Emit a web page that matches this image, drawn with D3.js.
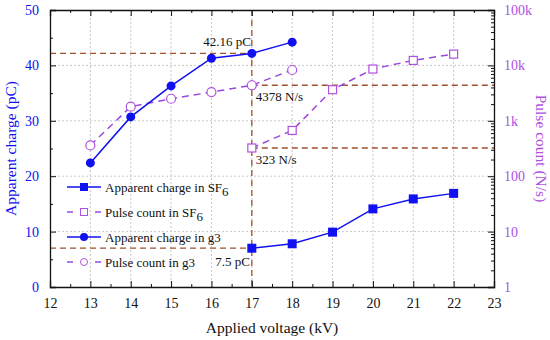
<!DOCTYPE html>
<html>
<head>
<meta charset="utf-8">
<script src="https://cdn.jsdelivr.net/npm/d3@7"></script>
<style>
  body { margin: 0; background: #fff; }
</style>
</head>
<body>
<div id="chart"></div>
<script>
// data
var voltSF6 = [17, 18, 19, 20, 21, 22];
var chargeSF6 = [7.0, 7.8, 9.9, 14.1, 15.9, 16.9];
var pulseSF6 = [323, 670, 3640, 8600, 12300, 16000];
var voltG3 = [13, 14, 15, 16, 17, 18];
var chargeG3 = [22.4, 30.7, 36.3, 41.3, 42.16, 44.2];
var pulseG3 = [360, 1800, 2500, 3300, 4378, 8260];
var xTicks = [12, 13, 14, 15, 16, 17, 18, 19, 20, 21, 22, 23];
var yTicks = [0, 10, 20, 30, 40, 50];
var logTicks = [1, 10, 100, 1000, 10000, 100000];
var logLabels = ["1", "10", "100", "1k", "10k", "100k"];

var svgWidth = 550, svgHeight = 340;
var margin = { top: 10, right: 56, bottom: 53, left: 50 };
var width = svgWidth - margin.left - margin.right;
var height = svgHeight - margin.top - margin.bottom;

var serif = "'Liberation Serif', 'Times New Roman', Times, 'DejaVu Serif', serif";
var blue = "#1010f0", violet = "#b050e0", lineViolet = "#9848e0", refCol = "#a0522d";

var svg = d3.select("#chart").append("svg")
  .attr("width", svgWidth).attr("height", svgHeight)
  .style("font-family", serif);
var g = svg.append("g").attr("transform", `translate(${margin.left},${margin.top})`);

var x = d3.scaleLinear().domain([12, 23]).range([0, width]);
var y = d3.scaleLinear().domain([0, 50]).range([height, 0]);
var yR = d3.scaleLog().domain([1, 100000]).range([height, 0]);

// grid
g.selectAll(".gx").data(xTicks.slice(1, -1)).enter().append("line")
  .attr("x1", d => x(d)).attr("x2", d => x(d)).attr("y1", 0).attr("y2", height)
  .attr("stroke", "#c8c8c8").attr("stroke-width", 1).attr("stroke-dasharray", "2,2");
g.selectAll(".gy").data(yTicks.slice(1, -1)).enter().append("line")
  .attr("x1", 0).attr("x2", width).attr("y1", d => y(d)).attr("y2", d => y(d))
  .attr("stroke", "#c8c8c8").attr("stroke-width", 1).attr("stroke-dasharray", "2,2");

// reference dashed lines
function refLine(x1, y1, x2, y2) {
  g.append("line").attr("x1", x1).attr("y1", y1).attr("x2", x2).attr("y2", y2)
    .attr("stroke", refCol).attr("stroke-width", 1.3).attr("stroke-dasharray", "6,4");
}
refLine(0, y(42.16), x(17), y(42.16));
refLine(0, y(7.0), x(17), y(7.0));
refLine(x(17), 0, x(17), height);
refLine(x(17), yR(4378), width, yR(4378));
refLine(x(17), yR(323), width, yR(323));

// axes
var xAxis = d3.axisBottom(x).tickValues(xTicks).tickSize(-6).tickPadding(11).tickFormat(d3.format("d"));
var gx = g.append("g").attr("transform", `translate(0,${height})`).call(xAxis);
gx.selectAll("text").attr("font-size", 14).attr("fill", "#111");
g.append("g").attr("transform", `translate(0,${height})`)
  .call(d3.axisBottom(x).tickValues(d3.range(12.5, 23, 1)).tickSize(-3).tickFormat(""))
  .select(".domain").remove();
// top axis
g.append("g").call(d3.axisTop(x).tickValues(xTicks).tickSize(-6).tickFormat(""));
g.append("g").call(d3.axisTop(x).tickValues(d3.range(12.5, 23, 1)).tickSize(-3).tickFormat(""))
  .select(".domain").remove();

var yAxis = d3.axisLeft(y).tickValues(yTicks).tickSize(-6).tickPadding(11);
var gy = g.append("g").call(yAxis);
gy.selectAll("text").attr("font-size", 14).attr("fill", blue);
g.append("g").call(d3.axisLeft(y).tickValues(d3.range(5, 50, 10)).tickSize(-3).tickFormat(""))
  .select(".domain").remove();

var minorLog = [];
for (var p = 1; p < 100000; p *= 10) for (var k = 2; k <= 9; k++) minorLog.push(p * k);
var yRAxis = d3.axisRight(yR).tickValues(logTicks).tickSize(-6).tickPadding(10)
  .tickFormat((d, i) => logLabels[i]);
var gyR = g.append("g").attr("transform", `translate(${width},0)`).call(yRAxis);
gyR.selectAll("text").attr("font-size", 14).attr("fill", violet);
g.append("g").attr("transform", `translate(${width},0)`)
  .call(d3.axisRight(yR).tickValues(minorLog).tickSize(-3).tickFormat(""))
  .select(".domain").remove();

svg.selectAll(".domain").attr("stroke", "#111").attr("stroke-width", 1.3);
svg.selectAll(".tick line").attr("stroke", "#111");
svg.selectAll("g").attr("font-family", null).style("font-family", serif);

// series
var lineL = d3.line().x(d => x(d[0])).y(d => y(d[1]));
var lineR = d3.line().x(d => x(d[0])).y(d => yR(d[1]));
var sf6C = d3.zip(voltSF6, chargeSF6), sf6P = d3.zip(voltSF6, pulseSF6);
var g3C = d3.zip(voltG3, chargeG3), g3P = d3.zip(voltG3, pulseG3);

g.append("path").datum(sf6P).attr("d", lineR).attr("fill", "none")
  .attr("stroke", lineViolet).attr("stroke-width", 1.5).attr("stroke-dasharray", "7,5");
g.append("path").datum(g3P).attr("d", lineR).attr("fill", "none")
  .attr("stroke", lineViolet).attr("stroke-width", 1.5).attr("stroke-dasharray", "7,5");
g.append("path").datum(sf6C).attr("d", lineL).attr("fill", "none")
  .attr("stroke", blue).attr("stroke-width", 1.5);
g.append("path").datum(g3C).attr("d", lineL).attr("fill", "none")
  .attr("stroke", blue).attr("stroke-width", 1.5);

g.selectAll(".sqo").data(sf6P).enter().append("rect")
  .attr("x", d => x(d[0]) - 4).attr("y", d => yR(d[1]) - 4).attr("width", 8).attr("height", 8)
  .attr("fill", "#fff").attr("stroke", violet).attr("stroke-width", 1.2);
g.selectAll(".cio").data(g3P).enter().append("circle")
  .attr("cx", d => x(d[0])).attr("cy", d => yR(d[1])).attr("r", 4.5)
  .attr("fill", "#fff").attr("stroke", violet).attr("stroke-width", 1.2);
g.selectAll(".sqf").data(sf6C).enter().append("rect")
  .attr("x", d => x(d[0]) - 4.5).attr("y", d => y(d[1]) - 4.5).attr("width", 9).attr("height", 9)
  .attr("fill", blue);
g.selectAll(".cif").data(g3C).enter().append("circle")
  .attr("cx", d => x(d[0])).attr("cy", d => y(d[1])).attr("r", 4.5)
  .attr("fill", blue);

// annotations
function note(txt, xv, yv, anchor) {
  g.append("text").attr("x", xv).attr("y", yv).attr("text-anchor", anchor)
    .style("font-family", serif).attr("font-size", 13).attr("fill", "#111").text(txt);
}
note("42.16 pC", x(17) - 1, y(42.16) - 7, "end");
note("4378 N/s", x(17) + 4, yR(4378) + 16, "start");
note("323 N/s", x(17) + 4, yR(323) + 16, "start");
note("7.5 pC", x(17) - 2, y(7.0) + 18, "end");

// legend
var legend = [
  { t: "Apparent charge in SF", sub: "6", col: blue, dash: null, m: "sqf" },
  { t: "Pulse count in SF", sub: "6", col: lineViolet, dash: "6,8", m: "sqo" },
  { t: "Apparent charge in g3", sub: "", col: blue, dash: null, m: "cif" },
  { t: "Pulse count in g3", sub: "", col: lineViolet, dash: "6,8", m: "cio" }
];
var lg = g.selectAll(".lg").data(legend).enter().append("g")
  .attr("transform", (d, i) => `translate(17,${177 + i * 25})`);
lg.append("line").attr("x1", 0).attr("x2", 34).attr("stroke", d => d.col)
  .attr("stroke-width", 1.5).attr("stroke-dasharray", d => d.dash);
lg.each(function(d) {
  var s = d3.select(this);
  if (d.m === "sqf") s.append("rect").attr("x", 13).attr("y", -4).attr("width", 8).attr("height", 8).attr("fill", blue);
  if (d.m === "sqo") s.append("rect").attr("x", 13.5).attr("y", -3.5).attr("width", 7).attr("height", 7).attr("fill", "#fff").attr("stroke", violet);
  if (d.m === "cif") s.append("circle").attr("cx", 17).attr("r", 4).attr("fill", blue);
  if (d.m === "cio") s.append("circle").attr("cx", 17).attr("r", 3.5).attr("fill", "#fff").attr("stroke", violet);
});
var lt = lg.append("text").attr("x", 38).attr("y", 5).style("font-family", serif)
  .attr("font-size", 13).attr("fill", "#111");
lt.append("tspan").text(d => d.t);
lt.append("tspan").attr("dy", 4).attr("font-size", 13).text(d => d.sub);

// axis titles
g.append("text").attr("transform", `translate(${-34},${height / 2}) rotate(-90)`)
  .attr("text-anchor", "middle").style("font-family", serif).attr("font-size", 15.5)
  .attr("fill", blue).text("Apparent charge (pC)");
g.append("text").attr("transform", `translate(${width + 42},${height / 2}) rotate(90)`)
  .attr("text-anchor", "middle").style("font-family", serif).attr("font-size", 15.5)
  .attr("fill", violet).text("Pulse count (N/s)");
g.append("text").attr("x", width / 2).attr("y", height + 46)
  .attr("text-anchor", "middle").style("font-family", serif).attr("font-size", 15.5)
  .attr("fill", "#111").text("Applied voltage (kV)");
</script>
</body>
</html>
